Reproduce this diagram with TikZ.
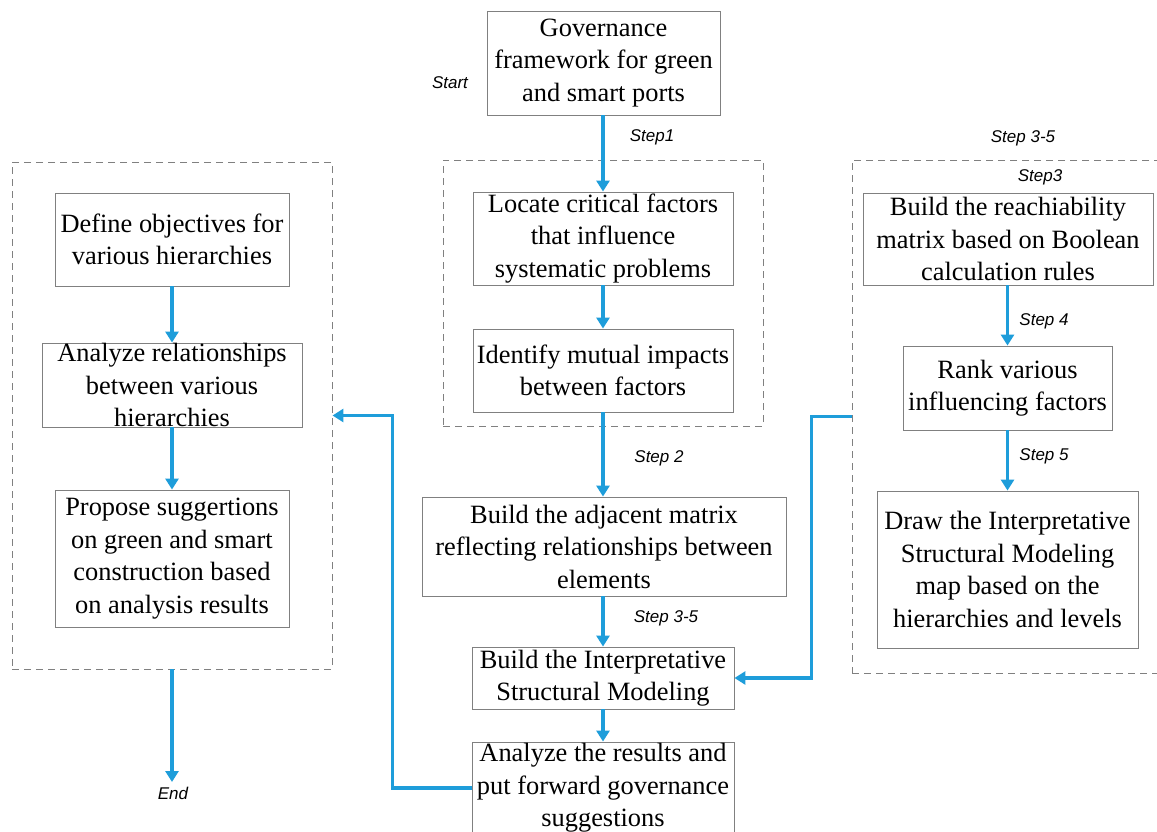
\documentclass[tikz,border=0pt]{standalone}
\usepackage{fontspec}
\setmainfont{Liberation Serif}
\newfontfamily\labfont{Liberation Sans}
\usetikzlibrary{arrows.meta}
\definecolor{arrblue}{RGB}{30,157,218}
\definecolor{boxgray}{RGB}{128,128,128}
\begin{document}
\begin{tikzpicture}[x=1pt,y=-1pt,
  box/.style={draw=boxgray, line width=0.9pt, inner sep=0pt, align=center,
    font=\fontsize{26.4}{32.5}\selectfont},
  cont/.style={draw=boxgray, line width=0.9pt, dash pattern=on 7pt off 5pt, inner sep=0pt},
  lab/.style={inner sep=0pt, font=\labfont\itshape\fontsize{17}{20}\selectfont},
  arr/.style={draw=arrblue, line width=3.8pt, -{Triangle[width=13pt,length=11pt]}}
]
\useasboundingbox (0,0) rectangle (1157,831);

% containers
\node[cont, minimum width=320pt, minimum height=266pt] (mdash) at (603,293) {};
\node[cont, minimum width=320pt, minimum height=507pt] (ldash) at (172,415.5) {};
\node[cont, minimum width=318pt, minimum height=513pt] (rdash) at (1011,416.5) {};

% middle column
\node[box, minimum width=233pt, minimum height=104pt] (gov) at (603.5,63) {Governance\\framework for green\\and smart ports};
\node[box, minimum width=260pt, minimum height=93pt] (locate) at (603,238.5) {Locate critical factors\\that influence\\systematic problems};
\node[box, minimum width=260pt, minimum height=83pt] (identify) at (603,370.5) {Identify mutual impacts\\between factors};
\node[box, minimum width=364pt, minimum height=99pt] (adj) at (604,546.5) {Build the adjacent matrix\\reflecting relationships between\\elements};
\node[box, minimum width=262pt, minimum height=62pt] (ism) at (603,678) {Build the Interpretative\\Structural Modeling};
\node[box, minimum width=262pt, minimum height=92pt] (res) at (603,788) {Analyze the results and\\put forward governance\\suggestions};

% left column
\node[box, minimum width=234pt, minimum height=93pt] (define) at (172,239.5) {Define objectives for\\various hierarchies};
\node[box, minimum width=260pt, minimum height=84pt] (rel) at (172,385) {Analyze relationships\\between various\\hierarchies};
\node[box, minimum width=234pt, minimum height=137pt] (propose) at (172,558.5) {Propose suggertions\\on green and smart\\construction based\\on analysis results};

% right column
\node[box, minimum width=290pt, minimum height=92pt] (reach) at (1008,239) {Build the reachiability\\matrix based on Boolean\\calculation rules};
\node[box, minimum width=209pt, minimum height=84pt] (rank) at (1007.5,388) {Rank various\\influencing factors};
\node[box, minimum width=261pt, minimum height=157pt] (drawmap) at (1007.5,569.5) {Draw the Interpretative\\Structural Modeling\\map based on the\\hierarchies and levels};

% labels
\node[lab] (lstart) at (450,83) {Start};
\node[lab] (lstep1) at (652,137) {Step1};
\node[lab] (lstepr) at (1023,138) {Step 3-5};
\node[lab] (lstep3) at (1040,177) {Step3};
\node[lab] (lstep4) at (1044,321) {Step 4};
\node[lab] (lstep5) at (1044,456) {Step 5};
\node[lab] (lstep2) at (659,458) {Step 2};
\node[lab] (lstepm) at (666,618) {Step 3-5};
\node[lab] (lend) at (173,793) {End};
\coordinate (endtip) at (172,782);

% arrows
\draw[arr] (gov.south -| locate.north) -- (locate.north);
\draw[arr] (locate.south) -- (identify.north);
\draw[arr] (identify.south) -- (identify.south |- adj.north);
\draw[arr] (adj.south -| ism.north) -- (ism.north);
\draw[arr] (ism.south) -- (res.north);
\draw[arr] (define.south) -- (rel.north);
\draw[arr] (rel.south) -- (propose.north);
\draw[arr] (reach.south -| rank.north) -- (rank.north);
\draw[arr] (rank.south) -- (drawmap.north);
\draw[arr] (ldash.south) -- (endtip);
\draw[arr] (rdash.west) -- ++(-40,0) |- (ism.east);
\draw[arr] (res.west) -- ++(-79,0) |- (ldash.east);
\end{tikzpicture}
\end{document}
